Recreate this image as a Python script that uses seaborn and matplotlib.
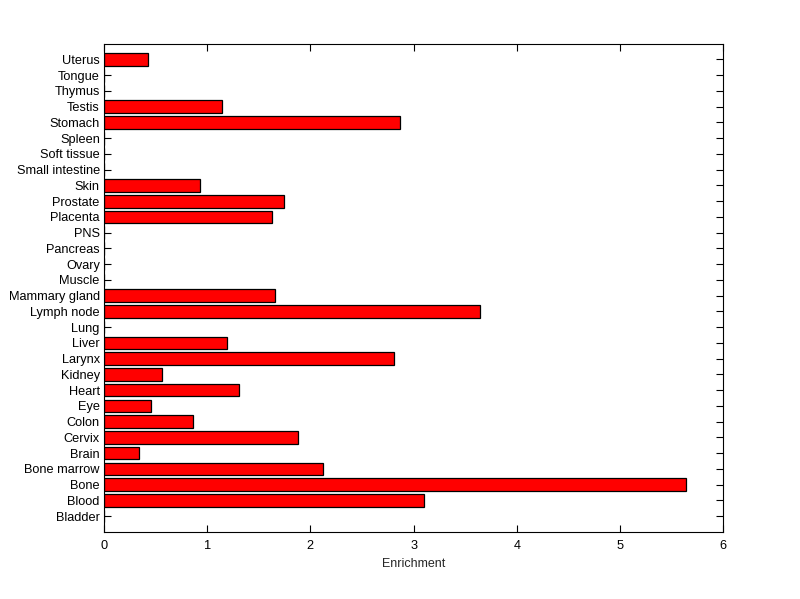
import pandas as pd
import seaborn as sns
import matplotlib.pyplot as plt

# tissue categories, top to bottom as shown
tissues = ['Uterus', 'Tongue', 'Thymus', 'Testis', 'Stomach', 'Spleen', 'Soft tissue',
           'Small intestine', 'Skin', 'Prostate', 'Placenta', 'PNS', 'Pancreas', 'Ovary',
           'Muscle', 'Mammary gland', 'Lymph node', 'Lung', 'Liver', 'Larynx', 'Kidney',
           'Heart', 'Eye', 'Colon', 'Cervix', 'Brain', 'Bone marrow', 'Bone', 'Blood',
           'Bladder']
enrichment = [0.43, 0, 0, 1.14, 2.87, 0, 0,
              0, 0.93, 1.74, 1.63, 0, 0, 0,
              0, 1.66, 3.64, 0, 1.19, 2.81, 0.56,
              1.31, 0.46, 0.865, 1.88, 0.34, 2.12, 5.64, 3.10,
              0]
xticks = [0, 1, 2, 3, 4, 5, 6]

df = pd.DataFrame({'tissue': tissues, 'enrichment': enrichment})

sns.set_style('white')
plt.rcParams['font.family'] = ['Liberation Sans', 'DejaVu Sans']

fig = plt.figure(figsize=(8, 5.99), dpi=100)
ax = fig.add_axes([0.13, 0.112, 0.774, 0.815])

sns.barplot(data=df, x='enrichment', y='tissue', order=tissues, orient='h',
            color='#ff0000', saturation=1, edgecolor='black', linewidth=0.9,
            width=0.8, ax=ax)

ax.set_xlim(0, 6)
ax.set_ylim(len(tissues), -1)
ax.set_xticks(xticks)
ax.set_xticklabels([str(t) for t in xticks])
ax.set_xlabel('Enrichment', fontsize=9)
ax.set_ylabel('')

for s in ax.spines.values():
    s.set_color('black')
    s.set_linewidth(0.8)

ax.tick_params(axis='both', direction='in', length=5, width=0.8, labelsize=9.2,
               top=True, right=True, bottom=True, left=True, colors='black')
ax.tick_params(axis='x', pad=6)
ax.tick_params(axis='y', pad=3)

plt.savefig('out.png', dpi=100)
